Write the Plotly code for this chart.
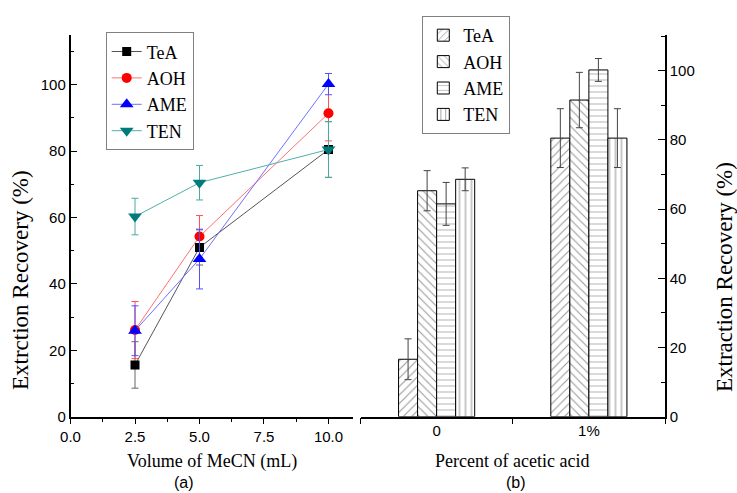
import plotly.graph_objects as go

# ---------------- data ----------------
volumes = [2.5, 5.0, 10.0]
series = ["TeA", "AOH", "AME", "TEN"]
vol_vals = {
    "TeA": [15.6, 51.0, 80.5],
    "AOH": [26.1, 54.3, 91.4],
    "AME": [25.9, 47.5, 100.2],
    "TEN": [60.3, 70.5, 80.5],
}
vol_err = {
    "TeA": [7.0, 5.3, 8.4],
    "AOH": [8.6, 6.3, 8.3],
    "AME": [7.5, 9.0, 3.2],
    "TEN": [5.5, 5.2, 8.4],
}
acid_cats = ["0", "1%"]
acid_vals = {
    "TeA": [16.6, 80.5],
    "AOH": [65.3, 91.5],
    "AME": [61.5, 100.2],
    "TEN": [68.6, 80.5],
}
acid_err = {
    "TeA": [5.9, 8.5],
    "AOH": [5.8, 8.0],
    "AME": [6.2, 3.3],
    "TEN": [3.3, 8.5],
}
x_ticks = [0.0, 2.5, 5.0, 7.5, 10.0]
y_ticks_left = [0, 20, 40, 60, 80, 100]
y_ticks_right = [0, 20, 40, 60, 80, 100]

# ---------------- styles ----------------
W, H = 737, 493
serif = "Liberation Serif, Times New Roman, serif"
sans = "Liberation Sans, Arial, sans-serif"

line_col = {"TeA": "#555555", "AOH": "#ff7070", "AME": "#7070ff", "TEN": "#50b0a8"}
mark_col = {"TeA": "#000000", "AOH": "#ff0000", "AME": "#0000ff", "TEN": "#007b7b"}
err_col = {"TeA": "#666666", "AOH": "#ff5050", "AME": "#5050ff", "TEN": "#4aa9a0"}
symbols = {"TeA": "square", "AOH": "circle", "AME": "triangle-up", "TEN": "triangle-down"}
msize = {"TeA": 9, "AOH": 10, "AME": 12, "TEN": 12}
patterns = {"TeA": "/", "AOH": "\\", "AME": "-", "TEN": "|"}
pat_fg = {"TeA": "#333333", "AOH": "#333333", "AME": "#777777", "TEN": "#333333"}

fig = go.Figure()

for s in series:
    fig.add_trace(go.Scatter(
        x=volumes, y=vol_vals[s], name=s, mode="lines+markers",
        xaxis="x", yaxis="y", legend="legend",
        line=dict(color=line_col[s], width=1),
        marker=dict(symbol=symbols[s], size=msize[s], color=mark_col[s],
                    line=dict(width=0)),
        error_y=dict(type="data", array=vol_err[s], color=err_col[s],
                     thickness=1, width=3.5),
    ))

for s in series:
    fig.add_trace(go.Bar(
        x=acid_cats, y=acid_vals[s], name=s,
        xaxis="x2", yaxis="y2", legend="legend2",
        marker=dict(color="white", line=dict(color="black", width=1),
                    pattern=dict(shape=patterns[s], fgcolor=pat_fg[s],
                                 bgcolor="white", size=6, solidity=0.18)),
        error_y=dict(type="data", array=acid_err[s], color="#444444",
                     thickness=1, width=3.5),
    ))

def px_x(p):
    return p / W

def px_y(p):
    return 1 - p / H

ydom = [px_y(416.7), px_y(35)]
tickfont = dict(family=sans, size=15, color="black")

fig.update_layout(
    width=W, height=H,
    margin=dict(l=0, r=0, t=0, b=0, autoexpand=False),
    paper_bgcolor="white", plot_bgcolor="white",
    barmode="group", bargap=0.5, bargroupgap=0,
    xaxis=dict(
        domain=[px_x(70.5), px_x(353)], range=[0, 10.95], anchor="y",
        automargin=False,
        showline=True, linecolor="black", linewidth=1.5,
        showgrid=False, zeroline=False,
        tickvals=x_ticks, tickformat=".1f", ticks="outside", ticklen=6,
        tickwidth=1, tickcolor="black", tickfont=tickfont,
        minor=dict(dtick=1.25, ticks="outside", ticklen=4, tickcolor="black"),
    ),
    yaxis=dict(
        domain=ydom, range=[0, 115], anchor="x", automargin=False,
        showline=True, linecolor="black", linewidth=1.5,
        showgrid=False, zeroline=False,
        tickvals=y_ticks_left, ticks="inside", ticklen=7, tickwidth=1,
        tickcolor="black", tickfont=tickfont,
        minor=dict(dtick=10, ticks="inside", ticklen=4, tickcolor="black"),
    ),
    xaxis2=dict(
        domain=[px_x(360.5), px_x(665)], range=[-0.5, 1.5], anchor="y2",
        type="category", automargin=False,
        showline=True, linecolor="black", linewidth=1.5,
        showgrid=False, zeroline=False,
        ticks="outside", tickson="boundaries", ticklen=6, tickwidth=1,
        tickcolor="black", tickfont=tickfont,
    ),
    yaxis2=dict(
        domain=ydom, range=[0, 110.3], anchor="x2", side="right",
        automargin=False,
        showline=True, linecolor="black", linewidth=1.5,
        showgrid=False, zeroline=False,
        tickvals=y_ticks_right, ticks="inside", ticklen=7, tickwidth=1,
        tickcolor="black", tickfont=tickfont,
        minor=dict(dtick=10, ticks="inside", ticklen=4, tickcolor="black"),
    ),
    legend=dict(
        x=px_x(105.7), y=px_y(32.3), xanchor="left", yanchor="top",
        bgcolor="white", bordercolor="#808080", borderwidth=1,
        font=dict(family=serif, size=18, color="black"),
        tracegroupgap=0, itemwidth=30,
    ),
    legend2=dict(
        x=px_x(422.3), y=px_y(16), xanchor="left", yanchor="top",
        bgcolor="white", bordercolor="#808080", borderwidth=1,
        font=dict(family=serif, size=18, color="black"),
        tracegroupgap=0, itemwidth=30,
    ),
    showlegend=True,
)

annots = [
    dict(text="Extrction Recovery (%)", x=px_x(20), y=px_y(280), textangle=-90,
         font=dict(family=serif, size=23, color="black")),
    dict(text="Extraction Recovery (%)", x=px_x(724), y=px_y(277), textangle=-90,
         font=dict(family=serif, size=23, color="black")),
    dict(text="Volume of MeCN (mL)", x=px_x(212), y=px_y(461),
         font=dict(family=serif, size=18, color="black")),
    dict(text="Percent of acetic acid", x=px_x(512), y=px_y(461),
         font=dict(family=serif, size=18, color="black")),
    dict(text="(a)", x=px_x(184), y=px_y(482),
         font=dict(family=sans, size=16, color="black")),
    dict(text="(b)", x=px_x(516), y=px_y(482),
         font=dict(family=sans, size=16, color="black")),
]
for a in annots:
    fig.add_annotation(xref="paper", yref="paper", showarrow=False,
                       xanchor="center", yanchor="middle", **a)

fig.write_html(
    "out.html",
    config={"displayModeBar": False},
    post_script="document.body.style.margin='0px';document.body.style.overflow='hidden';",
)
